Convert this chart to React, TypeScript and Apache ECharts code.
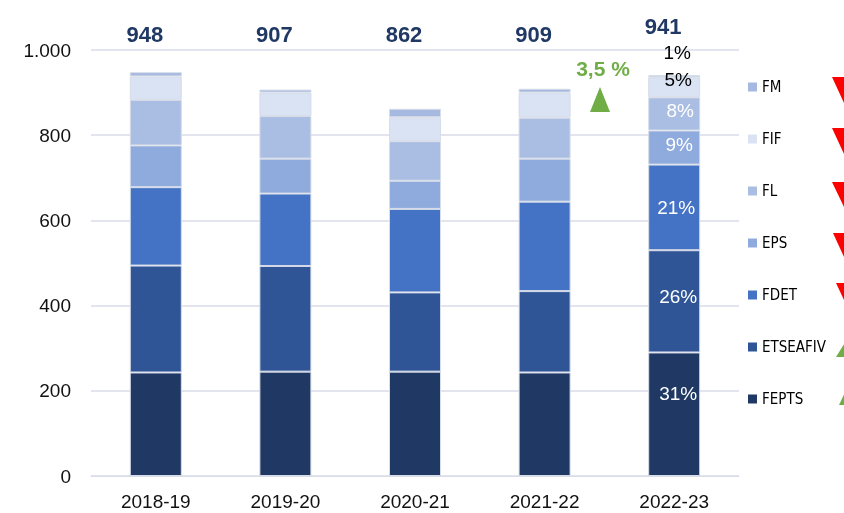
import React, { useEffect, useRef } from "react";
import * as echarts from "echarts";

const categories = ["2018-19", "2019-20", "2020-21", "2021-22", "2022-23"];
const FEPTS = [243, 245, 245, 243, 290];
const ETSEAFIV = [251, 248, 186, 191, 240];
const FDET = [184, 170, 196, 210, 201];
const EPS = [98, 82, 66, 101, 80];
const FL = [107, 100, 93, 96, 78];
const FIF = [55, 55, 56, 59, 47];
const FM = [10, 7, 20, 9, 5];
const totals = [948, 907, 862, 909, 941];
const lastSharesLabels = {
  FEPTS: "31%",
  ETSEAFIV: "26%",
  FDET: "21%",
  EPS: "9%",
  FL: "8%",
  FIF: "5%",
  FM: "1%",
};
const growthLabel = "3,5 %";
const yTicks = [0, 200, 400, 600, 800, 1000];

const FONT = "'Liberation Sans', Arial, sans-serif";
const LEGEND_FONT = "'DejaVu Sans Condensed', 'Liberation Sans', sans-serif";

// layout-only: value level where the total labels sit (above the plot)
const totalLabelLevel = [1037, 1037, 1037, 1037, 1055];

export default function App() {
  const ref = useRef<HTMLDivElement>(null);
  useEffect(() => {
    if (!ref.current) return;
    const chart = echarts.init(ref.current, undefined, { renderer: "svg" });
    const border = { borderColor: "#D6DCE8", borderWidth: 1 };
    const mk = (
      name: string,
      data: number[],
      color: string,
      labelColor: string,
      offset: number[],
      position: string = "inside",
      distance: number = 5
    ) => ({
      name,
      type: "bar",
      stack: "total",
      barWidth: 52,
      itemStyle: { color, ...border },
      emphasis: { disabled: true },
      data: data.map((v, i) =>
        i === data.length - 1
          ? {
              value: v,
              label: {
                show: true,
                position,
                distance,
                offset,
                formatter: (lastSharesLabels as any)[name],
                color: labelColor,
                fontFamily: FONT,
                fontSize: 19,
              },
            }
          : v
      ),
    });
    const fmt = (v: number) => String(v).replace(/\B(?=(\d{3})+(?!\d))/g, ".");
    chart.setOption({
      animation: false,
      grid: { left: 91, right: 105, top: 50, bottom: 37 },
      legend: {
        orient: "vertical",
        left: 748,
        top: 77,
        padding: 0,
        itemWidth: 9,
        itemHeight: 9,
        itemGap: 32,
        icon: "rect",
        selectedMode: false,
        itemStyle: { borderWidth: 0 },
        textStyle: { fontFamily: LEGEND_FONT, fontSize: 15, color: "#000", lineHeight: 20 },
        data: ["FM", "FIF", "FL", "EPS", "FDET", "ETSEAFIV", "FEPTS"],
      },
      xAxis: {
        type: "category",
        data: categories,
        axisLine: { lineStyle: { color: "#D9DDE8" } },
        axisTick: { show: false },
        axisLabel: { fontFamily: FONT, fontSize: 19, color: "#111", margin: 16 },
      },
      yAxis: {
        type: "value",
        min: yTicks[0],
        max: yTicks[yTicks.length - 1],
        interval: 200,
        axisLine: { show: false },
        axisTick: { show: false },
        splitLine: { lineStyle: { color: "#D9DDE8", width: 1.5 } },
        axisLabel: { fontFamily: FONT, fontSize: 19, color: "#111", margin: 20, formatter: fmt },
      },
      series: [
        mk("FEPTS", FEPTS, "#203864", "#fff", [4, -21]),
        mk("ETSEAFIV", ETSEAFIV, "#2F5597", "#fff", [4, -5]),
        mk("FDET", FDET, "#4472C4", "#fff", [2, 0]),
        mk("EPS", EPS, "#8FAADC", "#fff", [5, -3]),
        mk("FL", FL, "#AABEE3", "#fff", [6, -3]),
        mk("FIF", FIF, "#DAE3F3", "#000", [4, -8]),
        mk("FM", FM, "#A6B9E0", "#000", [3, 0], "top", 13),
        {
          name: "totals",
          type: "scatter",
          symbolSize: 0,
          clip: false,
          silent: true,
          itemStyle: { opacity: 1 },
          data: totals.map((t, i) => ({ value: [i, totalLabelLevel[i]], total: t })),
          label: {
            show: true,
            position: "inside",
            offset: [-11, 0],
            formatter: (p: any) => String(totals[p.dataIndex]),
            fontFamily: FONT,
            fontWeight: "bold",
            fontSize: 22,
            color: "#203864",
            opacity: 1,
          },
        },
      ],
      graphic: [
        {
          type: "text",
          x: 603,
          y: 68,
          style: {
            text: growthLabel,
            fill: "#70AD47",
            font: `bold 21px ${FONT}`,
            align: "center",
            verticalAlign: "middle",
          },
        },
        { type: "polygon", shape: { points: [[590, 112], [610, 112], [600, 87]] }, style: { fill: "#70AD47" } },
        { type: "polygon", shape: { points: [[832, 77], [856, 77], [844, 103]] }, style: { fill: "#FF0000" } },
        { type: "polygon", shape: { points: [[832, 128], [856, 128], [844, 154]] }, style: { fill: "#FF0000" } },
        { type: "polygon", shape: { points: [[832, 182], [856, 182], [844, 207]] }, style: { fill: "#FF0000" } },
        { type: "polygon", shape: { points: [[833, 233], [855, 233], [844, 257]] }, style: { fill: "#FF0000" } },
        { type: "polygon", shape: { points: [[836, 283], [852, 283], [844, 300]] }, style: { fill: "#FF0000" } },
        { type: "polygon", shape: { points: [[836, 357], [856, 357], [846, 341]] }, style: { fill: "#70AD47" } },
        { type: "polygon", shape: { points: [[839, 405], [855, 405], [847, 388]] }, style: { fill: "#70AD47" } },
      ],
    });
    return () => chart.dispose();
  }, []);
  return <div ref={ref} style={{ width: 844, height: 513, position: "fixed", left: 0, top: 0 }} />;
}
